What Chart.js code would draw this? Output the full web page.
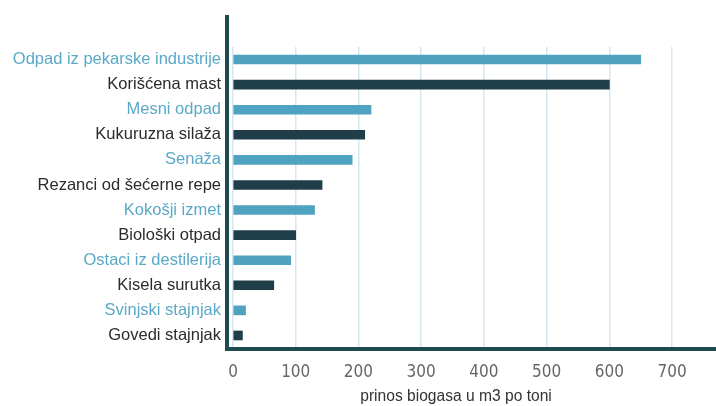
<!DOCTYPE html>
<html>
<head>
<meta charset="utf-8">
<script src="https://cdn.jsdelivr.net/npm/chart.js@4"></script>
<style>
html,body{margin:0;padding:0;background:#fff;}
#wrap{width:716px;height:406px;position:relative;}
</style>
</head>
<body>
<div id="wrap"><canvas id="c" width="716" height="406"></canvas></div>
<script>
const categories = [
  "Odpad iz pekarske industrije",
  "Korišćena mast",
  "Mesni odpad",
  "Kukuruzna silaža",
  "Senaža",
  "Rezanci od šećerne repe",
  "Kokošji izmet",
  "Biološki otpad",
  "Ostaci iz destilerija",
  "Kisela surutka",
  "Svinjski stajnjak",
  "Govedi stajnjak"
];
const biogasYield = [650, 600, 220, 210, 190, 142, 130, 100, 92, 65, 20, 15];
const xTickValues = [0, 100, 200, 300, 400, 500, 600, 700];
const xTitle = "prinos biogasa u m3 po toni";

const LIGHT = "#4fa3c1";
const DARK = "#1f3e49";
const LIGHT_TXT = "#5aa9c6";
const DARK_TXT = "#2b2b2b";
const AXIS = "#1e4b52";

const barColors = categories.map((_, i) => i % 2 === 0 ? LIGHT : DARK);
const labelColors = categories.map((_, i) => i % 2 === 0 ? LIGHT_TXT : DARK_TXT);

const axisLines = {
  id: 'axisLines',
  afterDraw(chart) {
    const {ctx, chartArea} = chart;
    ctx.save();
    ctx.strokeStyle = AXIS;
    ctx.lineWidth = 4;
    ctx.beginPath();
    ctx.moveTo(227, 15);
    ctx.lineTo(227, chartArea.bottom + 3);
    ctx.moveTo(225, chartArea.bottom + 1);
    ctx.lineTo(716, chartArea.bottom + 1);
    ctx.stroke();
    ctx.restore();
  }
};

new Chart(document.getElementById('c'), {
  type: 'bar',
  data: {
    labels: categories,
    datasets: [{
      data: biogasYield,
      backgroundColor: barColors,
      barThickness: 9,
      borderWidth: 0
    }]
  },
  options: {
    indexAxis: 'y',
    responsive: false,
    animation: false,
    devicePixelRatio: 1,
    layout: { padding: { left: 0, right: 37, top: 47, bottom: 0 } },
    plugins: { legend: { display: false }, tooltip: { enabled: false } },
    scales: {
      x: {
        min: 0,
        max: 711,
        afterBuildTicks(scale) { scale.ticks = xTickValues.map(v => ({ value: v })); },
        afterFit(scale) { scale.height = 58; },
        grid: { color: "#d3e8ef", lineWidth: 1.5, drawTicks: false },
        border: { display: false },
        ticks: {
          padding: 14,
          color: "#666666",
          font: { family: "'Liberation Sans Narrow', 'DejaVu Sans Condensed', Roboto", size: 17 }
        },
        title: {
          display: true,
          text: xTitle,
          color: "#333333",
          font: { family: "'Liberation Sans', Arial", size: 15.6 },
          padding: { top: 0, bottom: 0 }
        }
      },
      y: {
        afterFit(scale) { scale.width = 233; },
        grid: { display: false, drawTicks: false },
        border: { display: false },
        ticks: {
          padding: 12,
          color: labelColors,
          font: { family: "'Liberation Sans', Arial", size: 16.5 }
        }
      }
    }
  },
  plugins: [axisLines]
});
</script>
</body>
</html>
